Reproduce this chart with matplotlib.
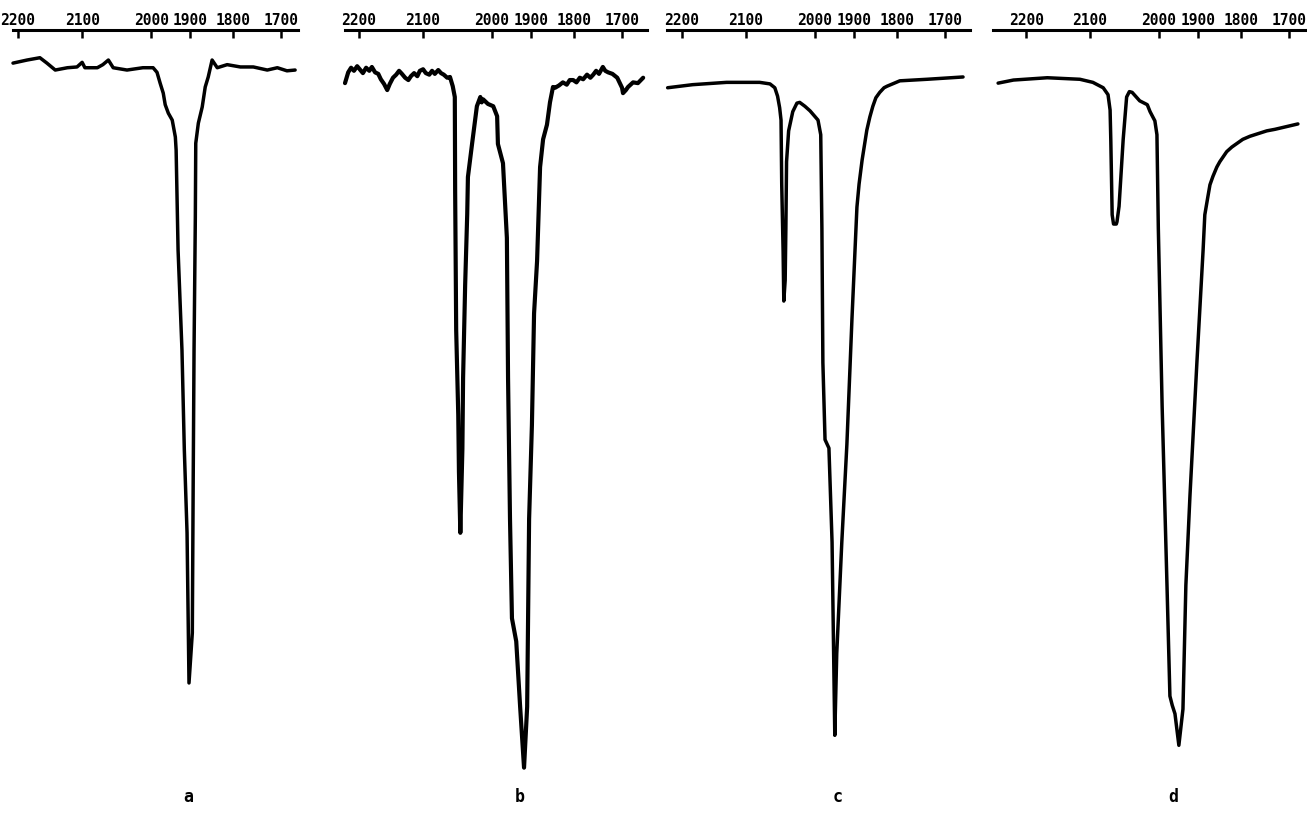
import numpy as np
import matplotlib
matplotlib.use("Agg")
import matplotlib.pyplot as plt

# ---------------- data (wavenumber cm-1, transmittance %) ----------------
tick_wn = [2200, 2100, 2000, 1900, 1800, 1700]
tick_labels = ["2200", "2100", "2000", "1900", "1800", "1700"]
panel_labels = ["a", "b", "c", "d"]

# chart-paper calibration (non-linear wavenumber scale of the spectrometer)
cal_wn = [1500, 1700, 1800, 1900, 2000, 2100, 2200, 2400]
cal_pos = [359, 263, 215, 172, 133, 64, 0, -128]

wn_a = [2208, 2186, 2166, 2155, 2142, 2123, 2108, 2100, 2096, 2078, 2070, 2062,
        2055, 2035, 2012, 1995, 1985, 1977, 1969, 1964, 1956, 1946, 1938, 1936,
        1931, 1921, 1915, 1908, 1903, 1895, 1893, 1891, 1888, 1887, 1881, 1872,
        1865, 1858, 1849, 1837, 1814, 1785, 1758, 1729, 1708, 1688, 1671]
T_a = [95.7, 96.1, 96.4, 95.7, 94.8, 95.1, 95.2, 95.8, 95.1, 95.1, 95.5, 96.1,
       95.1, 94.8, 95.1, 95.1, 94.5, 93.1, 91.8, 90.3, 89.2, 88.3, 86.1, 84.4,
       71.4, 58.4, 45.5, 34.7, 15.2, 21.7, 41.2, 58.4, 75.7, 85.3, 87.9, 90.0,
       92.6, 93.9, 96.1, 95.1, 95.5, 95.2, 95.2, 94.8, 95.1, 94.7, 94.8]

wn_b = [2222, 2217, 2212.5, 2208, 2203, 2198, 2194, 2189, 2184, 2180, 2175, 2170,
        2166, 2161, 2156, 2152, 2147, 2142, 2137.5, 2133, 2128, 2123, 2119, 2114,
        2109, 2105, 2100, 2096, 2091, 2087, 2083, 2078, 2074, 2070, 2065, 2061,
        2057, 2054, 2053.5, 2052, 2049, 2048, 2046, 2043, 2042, 2039, 2036, 2035,
        2029, 2022, 2017, 2015, 2013, 2006, 1997, 1987, 1985, 1972, 1962, 1959,
        1954, 1949, 1938, 1928, 1918, 1910, 1905, 1898, 1893, 1886, 1879, 1872,
        1863, 1856, 1849, 1844, 1835, 1826, 1817, 1810, 1802, 1795, 1788, 1781,
        1773, 1766, 1760, 1754, 1748, 1740, 1735, 1729, 1720, 1710, 1700, 1698,
        1692, 1687.5, 1677, 1667, 1656]
T_b = [93.1, 94.5, 95.1, 94.7, 95.3, 94.8, 94.4, 95.1, 94.7, 95.2, 94.5, 94.3,
       93.6, 93.0, 92.2, 93.0, 93.8, 94.2, 94.7, 94.3, 93.8, 93.5, 94.0, 94.4,
       94.0, 94.7, 94.9, 94.4, 94.2, 94.7, 94.3, 94.8, 94.4, 94.2, 93.8, 93.9,
       92.7, 91.3, 79.1, 61.0, 50.0, 42.6, 34.7, 45.6, 54.8, 66.9, 76.1, 80.9,
       85.2, 90.1, 91.3, 90.6, 91.0, 90.4, 90.1, 88.8, 85.2, 82.7, 73.0, 54.8,
       36.5, 23.6, 20.6, 12.1, 4.2, 12.1, 36.5, 48.7, 63.2, 70.0, 82.2, 85.8,
       87.7, 90.6, 92.6, 92.5, 92.8, 93.2, 92.9, 93.5, 93.5, 93.2, 93.8, 93.6,
       94.2, 93.8, 94.2, 94.7, 94.3, 95.2, 94.7, 94.5, 94.3, 93.8, 92.5, 91.8,
       92.2, 92.6, 93.2, 93.1, 93.8]

wn_c = [2222, 2183, 2130, 2080, 2065, 2058, 2054, 2051, 2049, 2048, 2046, 2045,
        2043, 2042, 2041, 2038, 2032, 2026, 2022, 2014.5, 2007, 1992, 1985, 1982,
        1979.5, 1974, 1964, 1956, 1949, 1944, 1931, 1918, 1905, 1893, 1888, 1881,
        1870, 1863, 1856, 1849, 1840, 1830, 1823, 1794, 1737.5, 1662.5]
T_c = [92.5, 92.9, 93.2, 93.2, 93.0, 92.5, 91.4, 89.9, 88.3, 80.0, 71.3, 64.8,
       67.5, 74.2, 82.9, 86.9, 89.4, 90.5, 90.6, 90.1, 89.5, 88.3, 86.4, 74.2,
       56.8, 46.8, 45.7, 33.5, 8.4, 19.0, 33.5, 46.2, 62.5, 77.0, 80.0, 83.1,
       87.0, 88.7, 90.1, 91.2, 91.9, 92.5, 92.7, 93.4, 93.6, 93.9]

wn_d = [2244, 2220, 2167, 2116, 2096, 2081, 2074, 2071, 2070, 2068, 2066, 2062,
        2061, 2058, 2052, 2047, 2043, 2039, 2028, 2017, 2013, 2006, 2003, 2001,
        1992, 1979.5, 1972, 1966, 1959, 1949, 1938.5, 1931, 1920.5, 1902.6, 1888,
        1884, 1877, 1872, 1865, 1856, 1849, 1833, 1821, 1796, 1781, 1746, 1729,
        1681]
T_d = [93.1, 93.5, 93.8, 93.6, 93.2, 92.5, 91.6, 89.6, 85.8, 76.0, 74.8, 74.8,
       75.1, 77.1, 85.8, 91.3, 92.0, 91.9, 90.8, 90.3, 89.4, 88.2, 86.4, 74.3,
       51.2, 27.9, 13.5, 12.3, 11.2, 7.1, 11.8, 27.9, 39.5, 56.9, 71.4,
       76.0, 78.3, 79.9, 81.0, 82.2, 82.9, 84.2, 84.8, 85.8, 86.2, 86.9, 87.1,
       87.8]

series = [(wn_a, T_a), (wn_b, T_b), (wn_c, T_c), (wn_d, T_d)]
xlims = [(2208, 1665), (2222, 1648), (2223, 1648), (2252, 1662)]

# ---------------- scale ----------------
_cw = np.array(cal_wn, float)
_cp = np.array(cal_pos, float)


def fwd(w):
    return -np.interp(np.asarray(w, float), _cw, _cp)


def inv(v):
    return np.interp(-np.asarray(v, float), _cp[::-1], _cw[::-1])


# ---------------- figure ----------------
W, H = 1307, 831
fig = plt.figure(figsize=(W / 100, H / 100), dpi=100)

# axes placement in pixels: left edge, width
boxes = [(13, 285), (345, 302), (667, 303), (993, 314)]
top_px, bot_px = 30, 800
label_x = [188, 520, 838, 1173]

for i, ((wn, T), (x0, w), xl) in enumerate(zip(series, boxes, xlims)):
    ax = fig.add_axes([x0 / W, (H - bot_px) / H, w / W, (bot_px - top_px) / H])
    ax.set_xscale("function", functions=(fwd, inv))
    ax.set_xlim(*xl)
    ax.set_ylim(0, 100)
    ax.plot(wn, T, color="black", lw=2.5 if i != 1 else 3.0,
            solid_joinstyle="round", solid_capstyle="round", clip_on=False)
    for s in ("left", "right", "bottom"):
        ax.spines[s].set_visible(False)
    ax.spines["top"].set_linewidth(2.2)
    ax.xaxis.set_ticks_position("top")
    ax.set_xticks(tick_wn)
    ax.set_xticklabels(tick_labels)
    ax.xaxis.set_minor_locator(matplotlib.ticker.NullLocator())
    ax.tick_params(axis="x", which="major", direction="in", length=5.5, width=1.8,
                   pad=1.5, labelsize=10.5, top=True, bottom=False,
                   labeltop=True, labelbottom=False)
    for lab in ax.get_xticklabels():
        lab.set_fontfamily("DejaVu Sans Mono")
        lab.set_fontweight("bold")
    ax.set_yticks([])
    ax.patch.set_alpha(0)
    fig.text(label_x[i] / W, (H - 802) / H, panel_labels[i], ha="center",
             va="baseline", fontsize=12, fontweight="bold",
             family="DejaVu Sans Mono")

fig.savefig("out.png", dpi=100, facecolor="white")
